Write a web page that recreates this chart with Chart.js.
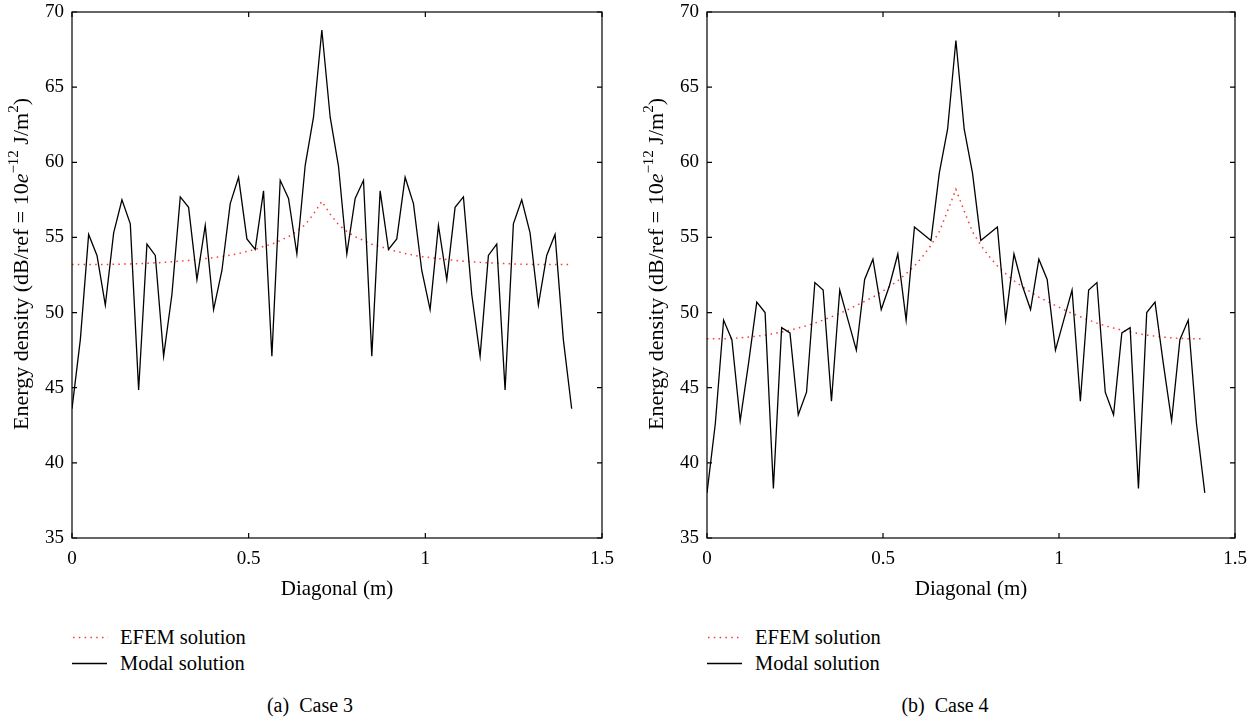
<!DOCTYPE html>
<html lang="en">
<head>
<meta charset="UTF-8">
<title>Energy density along the diagonal</title>
<script src="https://cdn.jsdelivr.net/npm/chart.js@4.4.1/dist/chart.umd.min.js"></script>
<style>
    body { margin: 0; background: #fff; }
    #figura { position: relative; width: 1258px; height: 723px; background: #fff; overflow: hidden;
              font-family: "Liberation Serif", "Times New Roman", serif; color: #000; }
    canvas { position: absolute; top: 0; }
    .legenda { position: absolute; font-size: 20.5px; line-height: 24px; width: 260px; height: 52px; }
    .item { position: absolute; left: 0; white-space: nowrap; height: 24px; }
    .item svg { position: absolute; left: 0; top: 11px; }
    .item span { position: absolute; left: 48px; top: 0; }
    .legenda-ef { top: 0; }
    .legenda-mo { top: 26px; }
    .rotulo { position: absolute; font-size: 20px; line-height: 24px; white-space: pre; transform: translateX(-50%); }
</style>
</head>
<body>
<div id="figura">
    <canvas id="caso3" width="629" height="612" style="left:0px"></canvas>
    <canvas id="caso4" width="629" height="612" style="left:629px"></canvas>

    <div class="legenda" style="left:72px; top:625px">
        <div class="item legenda-ef">
            <svg width="36" height="3"><line x1="1" y1="1.5" x2="36" y2="1.5" stroke="rgba(255,30,30,0.9)" stroke-width="1.5" stroke-dasharray="1.5 4.3"/></svg>
            <span>EFEM solution</span>
        </div>
        <div class="item legenda-mo">
            <svg width="36" height="3"><line x1="0" y1="1.5" x2="35" y2="1.5" stroke="#000" stroke-width="1.3"/></svg>
            <span>Modal solution</span>
        </div>
    </div>
    <div class="legenda" style="left:707px; top:625px">
        <div class="item legenda-ef">
            <svg width="36" height="3"><line x1="1" y1="1.5" x2="36" y2="1.5" stroke="rgba(255,30,30,0.9)" stroke-width="1.5" stroke-dasharray="1.5 4.3"/></svg>
            <span>EFEM solution</span>
        </div>
        <div class="item legenda-mo">
            <svg width="36" height="3"><line x1="0" y1="1.5" x2="35" y2="1.5" stroke="#000" stroke-width="1.3"/></svg>
            <span>Modal solution</span>
        </div>
    </div>

    <div class="rotulo" style="left:310px; top:693px">(a)  Case 3</div>
    <div class="rotulo" style="left:945px; top:693px">(b)  Case 4</div>
</div>

<script>
    // posicoes ao longo da diagonal (m)
    const diagonal = [0, 0.0236, 0.0471, 0.0707, 0.0943, 0.1179, 0.1414, 0.1650, 0.1886, 0.2121,
        0.2357, 0.2593, 0.2828, 0.3064, 0.3300, 0.3536, 0.3771, 0.4007, 0.4243, 0.4478,
        0.4714, 0.4950, 0.5185, 0.5421, 0.5657, 0.5893, 0.6128, 0.6364, 0.6600, 0.6835,
        0.7071,
        0.7307, 0.7542, 0.7778, 0.8014, 0.8250, 0.8485, 0.8721, 0.8957, 0.9192, 0.9428,
        0.9664, 0.9899, 1.0135, 1.0371, 1.0607, 1.0842, 1.1078, 1.1314, 1.1550, 1.1785,
        1.2021, 1.2257, 1.2492, 1.2728, 1.2964, 1.3199, 1.3435, 1.3671, 1.3906, 1.4142];

    // caso 3
    const modalCaso3 = [43.6, 48.2, 55.2, 53.8, 50.5, 55.3, 57.5, 55.9, 44.85, 54.55,
        53.8, 47.1, 51.2, 57.7, 57.0, 52.2, 55.8, 50.2, 52.8, 57.25,
        59.0, 54.9, 54.2, 58.1, 47.1, 58.8, 57.6, 53.9, 59.8, 63.0,
        68.8,
        63.0, 59.75, 53.9, 57.6, 58.8, 47.1, 58.1, 54.2, 54.9, 59.0,
        57.25, 52.8, 50.2, 55.8, 52.2, 57.0, 57.7, 51.2, 47.1, 53.8,
        54.55, 44.85, 55.9, 57.5, 55.3, 50.5, 53.8, 55.2, 48.2, 43.6];
    const efemCaso3 = [53.2, 53.2, 53.2, 53.2, 53.2, 53.21, 53.22, 53.24, 53.26, 53.28,
        53.31, 53.34, 53.38, 53.42, 53.47, 53.53, 53.59, 53.66, 53.72, 53.82,
        53.93, 54.07, 54.2, 54.4, 54.55, 54.8, 55.05, 55.4, 55.85, 56.55,
        57.4,
        56.55, 55.85, 55.4, 55.05, 54.8, 54.55, 54.4, 54.2, 54.07, 53.93,
        53.82, 53.72, 53.66, 53.59, 53.53, 53.47, 53.42, 53.38, 53.34, 53.31,
        53.28, 53.26, 53.24, 53.22, 53.21, 53.2, 53.2, 53.2, 53.2, 53.2];

    // caso 4
    const modalCaso4 = [38.0, 42.6, 49.5, 48.2, 42.8, 46.6, 50.7, 50.0, 38.3, 49.0,
        48.65, 43.2, 44.7, 52.0, 51.5, 44.1, 51.5, 49.5, 47.5, 52.2,
        53.55, 50.2, 51.8, 53.9, 49.5, 55.7, 55.25, 54.8, 59.3, 62.2,
        68.1,
        62.2, 59.3, 54.8, 55.25, 55.7, 49.5, 53.9, 51.8, 50.2, 53.55,
        52.2, 47.5, 49.5, 51.5, 44.1, 51.5, 52.0, 44.7, 43.2, 48.65,
        49.0, 38.3, 50.0, 50.7, 46.6, 42.8, 48.2, 49.5, 42.6, 38.0];
    const efemCaso4 = [48.25, 48.25, 48.25, 48.28, 48.32, 48.37, 48.43, 48.5, 48.6, 48.7,
        48.83, 48.97, 49.12, 49.3, 49.5, 49.72, 49.95, 50.2, 50.47, 50.75,
        51.02, 51.37, 51.72, 52.12, 52.59, 53.1, 53.74, 54.48, 55.38, 56.76,
        58.2,
        56.76, 55.38, 54.48, 53.74, 53.1, 52.59, 52.12, 51.72, 51.37, 51.02,
        50.75, 50.47, 50.2, 49.95, 49.72, 49.5, 49.3, 49.12, 48.97, 48.83,
        48.7, 48.6, 48.5, 48.43, 48.37, 48.32, 48.28, 48.25, 48.25, 48.25];

    const ticksX = [0, 0.5, 1, 1.5];
    const ticksY = [35, 40, 45, 50, 55, 60, 65, 70];

    const fonte = '"Liberation Serif", "Times New Roman", serif';

    // caixa em volta do grafico, marcas para dentro e titulo do eixo y
    const caixaPlugin = {
        id: 'caixa',
        afterDraw(chart, args, opts) {
            const ctx = chart.ctx;
            const a = chart.chartArea;
            const x = chart.scales.x;
            const y = chart.scales.y;
            ctx.save();
            ctx.strokeStyle = '#000';
            ctx.lineWidth = 1.2;
            ctx.strokeRect(a.left, a.top, a.right - a.left, a.bottom - a.top);
            ctx.beginPath();
            x.ticks.forEach(function (t) {
                const px = x.getPixelForValue(t.value);
                ctx.moveTo(px, a.bottom); ctx.lineTo(px, a.bottom - 5);
                ctx.moveTo(px, a.top); ctx.lineTo(px, a.top + 5);
            });
            y.ticks.forEach(function (t) {
                const py = y.getPixelForValue(t.value);
                ctx.moveTo(a.left, py); ctx.lineTo(a.left + 5, py);
                ctx.moveTo(a.right, py); ctx.lineTo(a.right - 5, py);
            });
            ctx.stroke();

            // titulo do eixo y com expoentes
            const partes = [
                { t: 'Energy density (dB/ref = 10', f: '22px ' + fonte, dy: 0 },
                { t: 'e', f: 'italic 22px ' + fonte, dy: 0 },
                { t: '\u221212', f: '15px ' + fonte, dy: -8 },
                { t: ' J/m', f: '22px ' + fonte, dy: 0 },
                { t: '2', f: '15px ' + fonte, dy: -8 },
                { t: ')', f: '22px ' + fonte, dy: 0 }
            ];
            let total = 0;
            partes.forEach(function (p) { ctx.font = p.f; p.w = ctx.measureText(p.t).width; total += p.w; });
            ctx.translate(opts.tituloX, (a.top + a.bottom) / 2 - 11);
            ctx.rotate(-Math.PI / 2);
            ctx.fillStyle = '#000';
            ctx.textBaseline = 'middle';
            ctx.textAlign = 'left';
            let pos = -total / 2;
            partes.forEach(function (p) {
                ctx.font = p.f;
                ctx.fillText(p.t, pos, p.dy);
                pos += p.w;
            });
            ctx.restore();
        }
    };

    function pontos(valores) {
        return diagonal.map(function (d, i) { return { x: d, y: valores[i] }; });
    }

    function criarGrafico(id, modal, efem, larguraY, direita, tituloX) {
        return new Chart(document.getElementById(id), {
            type: 'line',
            data: {
                datasets: [
                    {
                        label: 'Modal solution',
                        data: pontos(modal),
                        borderColor: '#000',
                        borderWidth: 1.3,
                        pointRadius: 0,
                        tension: 0,
                        fill: false,
                        order: 0
                    },
                    {
                        label: 'EFEM solution',
                        data: pontos(efem),
                        borderColor: 'rgba(255, 30, 30, 0.9)',
                        borderWidth: 1.5,
                        borderDash: [1.5, 4.3],
                        pointRadius: 0,
                        tension: 0,
                        fill: false,
                        order: 1
                    }
                ]
            },
            options: {
                responsive: false,
                animation: false,
                devicePixelRatio: 1,
                layout: { padding: { top: 12, right: direita, bottom: 0, left: 0 } },
                plugins: {
                    legend: { display: false },
                    tooltip: { enabled: false },
                    caixa: { tituloX: tituloX }
                },
                scales: {
                    x: {
                        type: 'linear',
                        min: 0,
                        max: 1.5,
                        afterBuildTicks: function (s) { s.ticks = ticksX.map(function (v) { return { value: v }; }); },
                        afterFit: function (s) { s.height = 74; s.paddingLeft = 0; s.paddingRight = 0; },
                        grid: { display: false, drawTicks: false },
                        border: { display: false },
                        ticks: {
                            color: '#000', font: { family: fonte, size: 19 }, padding: 10, maxRotation: 0, autoSkip: false,
                            callback: function (v) { return String(v); }
                        },
                        title: { display: true, text: 'Diagonal (m)', color: '#000', font: { family: fonte, size: 21 }, padding: { top: 0, bottom: 10 } }
                    },
                    y: {
                        type: 'linear',
                        min: 35,
                        max: 70,
                        afterBuildTicks: function (s) { s.ticks = ticksY.map(function (v) { return { value: v }; }); },
                        afterFit: function (s) { s.width = larguraY; s.paddingTop = 0; s.paddingBottom = 0; },
                        grid: { display: false, drawTicks: false },
                        border: { display: false },
                        ticks: { color: '#000', font: { family: fonte, size: 19 }, padding: 8 }
                    }
                }
            },
            plugins: [caixaPlugin]
        });
    }

    criarGrafico('caso3', modalCaso3, efemCaso3, 72, 27, 22);
    criarGrafico('caso4', modalCaso4, efemCaso4, 78, 23, 28);
</script>
</body>
</html>
